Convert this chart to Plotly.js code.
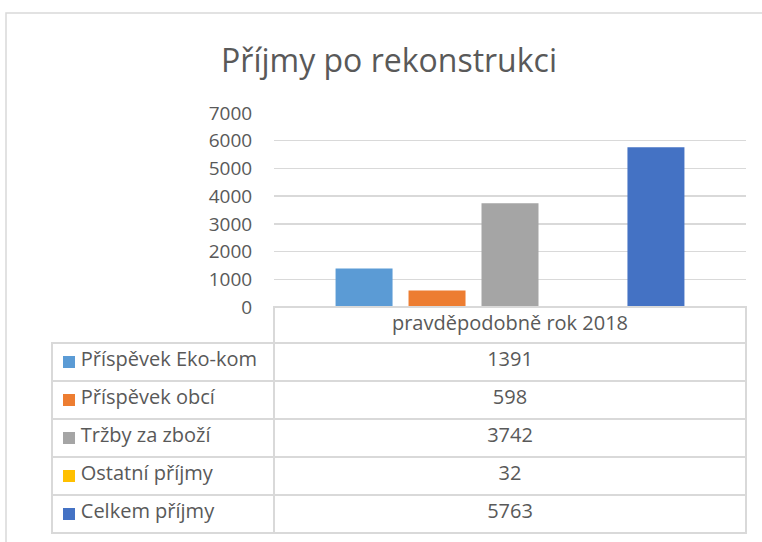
<!DOCTYPE html>
<html>
<head>
<meta charset="utf-8">
<script src="https://cdn.plot.ly/plotly-3.0.1.min.js"></script>
<style>html,body{margin:0;padding:0;background:#fff;}#chart{width:762px;height:542px;}</style>
</head>
<body>
<div id="chart"></div>
<script>
const category = "pravděpodobně rok 2018";
const seriesNames = ["Příspěvek Eko-kom", "Příspěvek obcí", "Tržby za zboží", "Ostatní příjmy", "Celkem příjmy"];
const seriesValues = [1391, 598, 3742, 32, 5763];
const seriesColors = ["#5b9bd5", "#ed7d31", "#a5a5a5", "#ffc000", "#4472c4"];
const yTicks = [0, 1000, 2000, 3000, 4000, 5000, 6000, 7000];

const W = 762, H = 542;
const px = v => v / W;
const py = v => 1 - v / H;
const FONT = "Open Sans, Noto Sans, sans-serif";
const TXT = "#595959";
const GRID = "#d9d9d9";
const CLEAR = "rgba(255,255,255,0)";
const INDENT = "\u00a0\u00a0\u00a0\u00a0";

const traces = seriesNames.map((name, i) => ({
  type: "bar",
  name: name,
  x: [category],
  y: [seriesValues[i]],
  marker: {color: seriesColors[i]},
  xaxis: "x", yaxis: "y",
  hoverinfo: "name+y"
}));

// legend keys in the data table
traces.push({
  type: "scatter",
  mode: "markers",
  x: seriesNames.map(() => 0),
  y: seriesNames,
  xaxis: "x2", yaxis: "y2",
  marker: {symbol: "square", size: 12, color: seriesColors, line: {width: 0}},
  hoverinfo: "skip"
});

traces.push({
  type: "table",
  domain: {x: [px(52), px(746)], y: [py(541), py(307)]},
  columnwidth: [222, 472],
  header: {
    values: ["", category],
    height: 36,
    align: ["left", "center"],
    fill: {color: [CLEAR, CLEAR]},
    line: {color: [CLEAR, GRID], width: 1.5},
    font: {family: FONT, size: 20, color: TXT}
  },
  cells: {
    values: [
      seriesNames.map(n => INDENT + n),
      seriesValues.map(v => String(v))
    ],
    height: 38,
    align: ["left", "center"],
    fill: {color: [CLEAR, CLEAR]},
    line: {color: GRID, width: 1.5},
    font: {family: FONT, size: 20, color: TXT}
  }
});

const layout = {
  width: W, height: H,
  margin: {l: 0, r: 0, t: 0, b: 0},
  paper_bgcolor: "#ffffff",
  plot_bgcolor: "rgba(0,0,0,0)",
  showlegend: false,
  barmode: "group",
  bargap: 0.227,
  bargroupgap: 0.219,
  title: {
    text: "Příjmy po rekonstrukci",
    x: px(389), xanchor: "center",
    y: py(61), yanchor: "middle",
    font: {family: FONT, size: 32, color: TXT}
  },
  xaxis: {
    domain: [px(274), px(746)],
    showticklabels: false,
    showgrid: false,
    zeroline: false,
    showline: false,
    ticks: "",
    fixedrange: true
  },
  yaxis: {
    domain: [py(307), py(113)],
    range: [0, 7000],
    tickvals: yTicks,
    ticktext: yTicks.map(String),
    showgrid: true,
    gridcolor: GRID,
    gridwidth: 1.5,
    zeroline: false,
    showline: false,
    ticks: "outside",
    ticklen: 17,
    tickcolor: "rgba(0,0,0,0)",
    tickfont: {family: FONT, size: 19, color: TXT},
    fixedrange: true
  },
  xaxis2: {
    domain: [px(52), px(274)],
    range: [-17, 205],
    anchor: "y2",
    visible: false,
    fixedrange: true
  },
  yaxis2: {
    domain: [py(533), py(343)],
    type: "category",
    categoryarray: seriesNames,
    range: [4.5, -0.5],
    anchor: "x2",
    visible: false,
    fixedrange: true
  },
  shapes: [
    {type: "rect", xref: "paper", yref: "paper",
     x0: px(6), x1: px(780), y0: py(560), y1: py(13),
     line: {color: GRID, width: 1.5}, fillcolor: "rgba(0,0,0,0)", layer: "below"}
  ]
};

Plotly.newPlot("chart", traces, layout, {displayModeBar: false, staticPlot: true});
</script>
</body>
</html>
